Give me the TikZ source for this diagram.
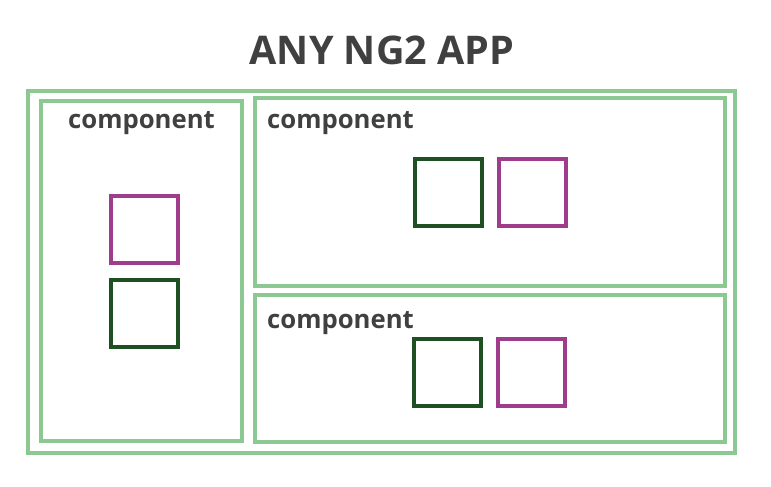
\documentclass[tikz,border=0pt]{standalone}
\usepackage{fontspec}
\setmainfont{Open Sans}
\definecolor{boxgreen}{RGB}{140,200,145}
\definecolor{darkgreen}{RGB}{30,80,35}
\definecolor{magentab}{RGB}{160,60,140}
\definecolor{txt}{RGB}{64,64,64}
\begin{document}
\begin{tikzpicture}[x=1pt,y=-1pt,
  frame/.style={draw=boxgreen,line width=3.3pt},
  gsq/.style={draw=darkgreen,line width=3.5pt},
  msq/.style={draw=magentab,line width=3.5pt},
  lbl/.style={text=txt,font=\fontsize{25.7}{26}\selectfont\bfseries,inner sep=0pt,anchor=base},
  ttl/.style={text=txt,font=\fontsize{39.5}{40}\selectfont\bfseries,inner sep=0pt,anchor=base}]
\useasboundingbox (0,0) rectangle (771,487);
\draw[frame] (28,91) rectangle (735,453);
\draw[frame] (41,101) rectangle (242,441);
\draw[frame] (255,98) rectangle (725,286);
\draw[frame] (255,295) rectangle (725,442);
\node[ttl] (title) at (382,65) {ANY NG2 APP};
\node[lbl] (l1) at (141.5,128) {component};
\node[lbl,anchor=base west] (l2) at (267,128) {component};
\node[lbl,anchor=base west] (l3) at (267,328) {component};
\draw[msq] (111,196) rectangle (178,263);
\draw[gsq] (111,280) rectangle (178,347);
\draw[gsq] (415,159) rectangle (482,226);
\draw[msq] (499,159) rectangle (566,226);
\draw[gsq] (414,339) rectangle (481,406);
\draw[msq] (498,339) rectangle (565,406);
\end{tikzpicture}
\end{document}
